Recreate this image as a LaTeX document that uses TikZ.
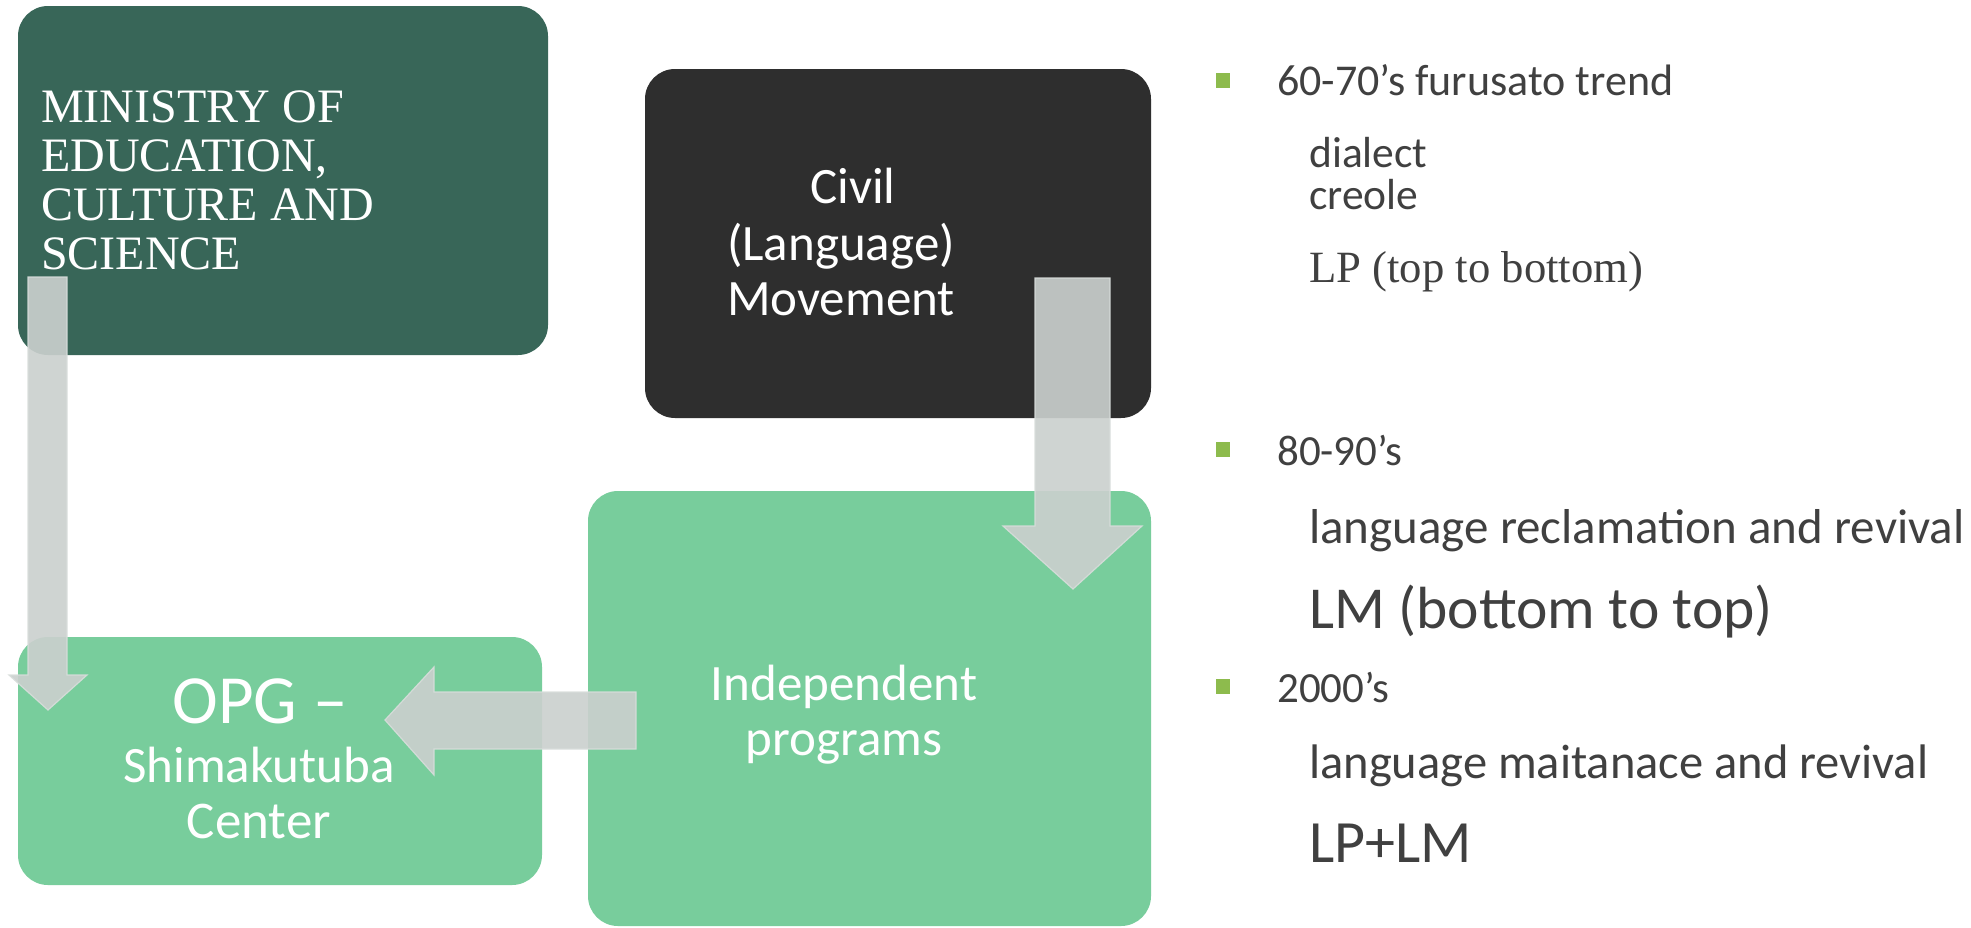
\documentclass[tikz,border=0pt]{standalone}
\usepackage{fontspec}
\setmainfont{Liberation Serif}
\newfontfamily\gillfont{Carlito}
\definecolor{darkgreen}{RGB}{56,102,88}
\definecolor{darkbox}{RGB}{46,46,46}
\definecolor{lightgreen}{RGB}{120,205,156}
\definecolor{arrowgray}{RGB}{203,208,206}
\definecolor{arrowedge}{RGB}{216,221,219}
\definecolor{bulletgreen}{RGB}{141,187,77}
\definecolor{textgray}{RGB}{64,64,64}
\begin{document}
\begin{tikzpicture}[x=1pt,y=-1pt,
  box/.style={rectangle, rounded corners=30pt, inner sep=0pt, draw=none},
  blockarrow/.style={fill=arrowgray, fill opacity=0.91, draw=arrowedge, draw opacity=0.9, line width=1.2pt, line join=miter},
  wsans/.style={text=white, inner sep=0pt, anchor=base, font=\gillfont\fontsize{#1}{#1}\selectfont},
  wserif/.style={text=white, inner sep=0pt, anchor=base west, font=\fontsize{#1}{#1}\selectfont},
  gsans/.style={text=textgray, inner sep=0pt, anchor=base west, font=\gillfont\fontsize{#1}{#1}\selectfont},
  gserif/.style={text=textgray, inner sep=0pt, anchor=base west, font=\fontsize{#1}{#1}\selectfont},
  bulletsq/.style={fill=bulletgreen, inner sep=0pt, minimum width=14pt, minimum height=15pt}
]
\useasboundingbox (0,0) rectangle (1971,927);
\fill[white] (0,0) rectangle (1971,927);

% boxes
\node[box, fill=darkgreen, minimum width=530pt, minimum height=349pt] (ministry) at (283,180.5) {};
\node[box, fill=darkbox, minimum width=506pt, minimum height=349pt] (civil) at (898,243.5) {};
\node[box, fill=lightgreen, minimum width=563pt, minimum height=435pt] (indep) at (869.5,708.5) {};
\node[box, fill=lightgreen, minimum width=524pt, minimum height=248pt] (opg) at (280,761) {};

% block arrows
\path[blockarrow] (28,277) -- (67,277) -- (67,675) -- (87,675) -- (48,710) -- (9,675) -- (28,675) -- cycle;
\path[blockarrow] (1035,278) -- (1110,278) -- (1110,526) -- (1142,526) -- (1073,589) -- (1003,526) -- (1035,526) -- cycle;
\path[blockarrow] (636,692) -- (636,749) -- (434,749) -- (434,775) -- (385,720) -- (434,667) -- (434,692) -- cycle;

% ministry text
\node[wserif=48] (m1) at (41,122) {MINISTRY OF};
\node[wserif=48] (m2) at (41,171) {EDUCATION,};
\node[wserif=48] (m3) at (41,220) {CULTURE AND};
\node[wserif=48] (m4) at (41,269) {SCIENCE};

% civil text
\node[wsans=51] (c1) at (853,203) {Civil};
\node[wsans=51] (c2) at (841,260) {(Language)};
\node[wsans=51] (c3) at (841,315) {Movement};

% independent text
\node[wsans=51] (i1) at (844,700) {Independent};
\node[wsans=51] (i2) at (844,755) {programs};

% OPG text
\node[wsans=69] (o1) at (260,723) {OPG –};
\node[wsans=51] (o2) at (259,782) {Shimakutuba};
\node[wsans=53] (o3) at (259,838) {Center};

% right column
\node[bulletsq] (b1) at (1223,80.5) {};
\node[bulletsq] (b2) at (1223,449.5) {};
\node[bulletsq] (b3) at (1223,686.5) {};

\node[gsans=44] (t1) at (1277,95) {60-70’s furusato trend};
\node[gsans=43.5] (t2) at (1309,167) {dialect};
\node[gsans=43.5] (t3) at (1309,209) {creole};
\node[gserif=44.7] (t4) at (1309,282) {LP (top to bottom)};
\node[gsans=43] (t5) at (1277,465) {80-90’s};
\node[gsans=49] (t6) at (1309,543) {language reclamation and revival};
\node[gsans=59.5] (t7) at (1309,628) {LM (bottom to top)};
\node[gsans=43] (t8) at (1277,702) {2000’s};
\node[gsans=48.5] (t9) at (1309,778) {language maitanace and revival};
\node[gsans=60] (t10) at (1309,862) {LP+LM};
\end{tikzpicture}
\end{document}
